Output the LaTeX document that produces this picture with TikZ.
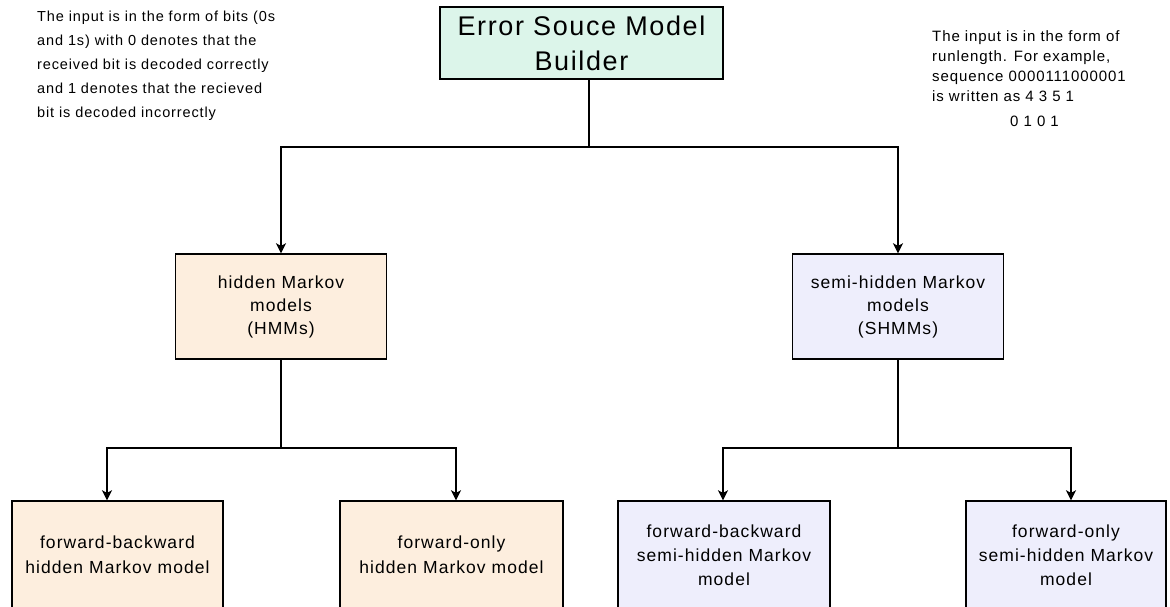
\documentclass[tikz,border=0pt]{standalone}
\usepackage{fontspec}
\setmainfont{Liberation Sans}[LetterSpace=6]
\usetikzlibrary{arrows.meta}
\definecolor{buildfill}{HTML}{DCF5EA}
\definecolor{hmmfill}{HTML}{FDEEDE}
\definecolor{shmmfill}{HTML}{EEEEFC}

\begin{document}
\begin{tikzpicture}[x=1pt, y=-1pt,
        box/.style={draw, line width=1.4pt, inner sep=0pt, align=center},
        link/.style={line width=1.5pt},
        arr/.style={link, -{Stealth[length=10pt, width=10pt, inset=2.5pt]}},
        note/.style={inner sep=0pt, align=left, anchor=north west}]
        \useasboundingbox (0,0) rectangle (1170,607);

        \node[box, fill=buildfill, minimum width=283, minimum height=72, font=\fontsize{27}{35}\selectfont] (builder) at (581.5,43) {Error Souce Model\\Builder};

        \node[box, fill=hmmfill, minimum width=211, minimum height=105, font=\fontsize{17.5}{23}\selectfont] (hmm) at (281,306.5) {hidden Markov\\models\\(HMMs)};
        \node[box, fill=shmmfill, minimum width=211, minimum height=105, font=\fontsize{17.5}{23}\selectfont] (shmm) at (898,306.5) {semi-hidden Markov\\models\\(SHMMs)};

        \node[box, fill=hmmfill, minimum width=211, minimum height=108, font=\fontsize{17.5}{25}\selectfont] (fbhmm) at (117.5,555) {forward-backward\\hidden Markov model};
        \node[box, fill=hmmfill, minimum width=223, minimum height=108, font=\fontsize{17.5}{25}\selectfont] (fohmm) at (451.5,555) {forward-only\\hidden Markov model};
        \node[box, fill=shmmfill, minimum width=212, minimum height=108, font=\fontsize{17.5}{24}\selectfont] (fbshmm) at (724,555) {forward-backward\\semi-hidden Markov\\model};
        \node[box, fill=shmmfill, minimum width=200, minimum height=108, font=\fontsize{17.5}{24}\selectfont] (foshmm) at (1066,555) {forward-only\\semi-hidden Markov\\model};

        \node[note, font=\fontsize{14.5}{24}\selectfont] (bitsnote) at (37,11) {The input is in the form of bits (0s\\and 1s) with 0 denotes that the\\received bit is decoded correctly\\and 1 denotes that the recieved\\bit is decoded incorrectly};
        \node[note, font=\fontsize{15}{20}\selectfont] (runnote) at (932,30) {The input is in the form of\\runlength. For example,\\sequence 0000111000001\\is written as 4 3 5 1\\[5pt]\hspace*{78pt}0 1 0 1};

        \coordinate (topsplit) at (589,147);
        \coordinate (hsplit) at (281,448);
        \coordinate (ssplit) at (898,448);

        \draw[link] (builder.south -| topsplit) -- (topsplit);
        \draw[arr] (topsplit) -| (hmm.north);
        \draw[arr] (topsplit) -| (shmm.north);

        \draw[link] (hmm.south) -- (hsplit);
        \draw[arr] (hsplit) -| ([xshift=-10.5pt]fbhmm.north);
        \draw[arr] (hsplit) -| ([xshift=4.5pt]fohmm.north);

        \draw[link] (shmm.south) -- (ssplit);
        \draw[arr] (ssplit) -| ([xshift=-1pt]fbshmm.north);
        \draw[arr] (ssplit) -| ([xshift=5pt]foshmm.north);
    \end{tikzpicture}
\end{document}
